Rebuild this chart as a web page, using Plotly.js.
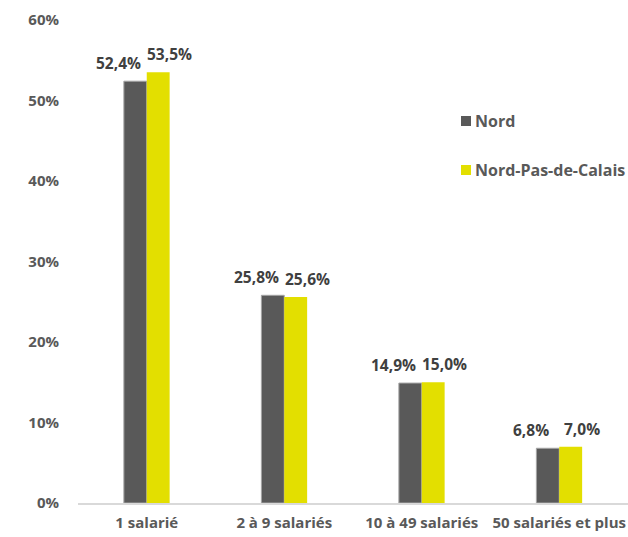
<!DOCTYPE html>
<html>
<head>
<meta charset="utf-8">
<script src="https://cdn.plot.ly/plotly-3.0.1.min.js"></script>
<style>html,body{margin:0;padding:0;background:#fff;}#chart{width:628px;height:537px;}</style>
</head>
<body>
<div id="chart"></div>
<script>
const categories = ["1 salarié", "2 à 9 salariés", "10 à 49 salariés", "50 salariés et plus"];
const seriesNames = ["Nord", "Nord-Pas-de-Calais"];
const seriesColors = ["#595959", "#e3df00"];
const nordValues = [0.524, 0.258, 0.149, 0.068];
const npdcValues = [0.535, 0.256, 0.150, 0.070];
const nordLabels = ["52,4%", "25,8%", "14,9%", "6,8%"];
const npdcLabels = ["53,5%", "25,6%", "15,0%", "7,0%"];
const yTickValues = [0, 0.1, 0.2, 0.3, 0.4, 0.5, 0.6];
const yTickLabels = ["0%", "10%", "20%", "30%", "40%", "50%", "60%"];

const fontFamily = "'Open Sans', sans-serif";
const textColor = "#595959";
const labelColor = "#404040";
const fsize = 16;
const labelSize = 15.5;

const traces = [
  {
    type: "bar", name: seriesNames[0], x: categories, y: nordValues,
    marker: {color: seriesColors[0], line: {color: "#a6a6a6", width: 1}},
    hoverinfo: "none", showlegend: false
  },
  {
    type: "bar", name: seriesNames[1], x: categories, y: npdcValues,
    marker: {color: seriesColors[1], line: {width: 0}},
    hoverinfo: "none", showlegend: false
  }
];

const annotations = [];
categories.forEach((c, i) => {
  annotations.push({x: c, y: nordValues[i], xref: "x", yref: "y", text: nordLabels[i],
    showarrow: false, xanchor: "center", yanchor: "bottom", xshift: -28, yshift: 5,
    font: {family: fontFamily, size: labelSize, color: labelColor, weight: "bold"}});
  annotations.push({x: c, y: npdcValues[i], xref: "x", yref: "y", text: npdcLabels[i],
    showarrow: false, xanchor: "center", yanchor: "bottom", xshift: 23, yshift: 5,
    font: {family: fontFamily, size: labelSize, color: labelColor, weight: "bold"}});
});

// manual legend (paper coordinates)
const legendX = 461, legendYs = [121, 170], sq = 10;
const shapes = [];
seriesNames.forEach((n, i) => {
  const px0 = (legendX - 78) / 550, px1 = (legendX + sq - 78) / 550;
  const py0 = (503 - legendYs[i] - sq / 2) / 483, py1 = (503 - legendYs[i] + sq / 2) / 483;
  shapes.push({type: "rect", xref: "paper", yref: "paper", x0: px0, x1: px1, y0: py0, y1: py1,
    fillcolor: seriesColors[i], line: {width: 0}});
  annotations.push({xref: "paper", yref: "paper", x: (legendX + sq + 2 - 78) / 550,
    y: (503 - legendYs[i]) / 483, text: n, showarrow: false, xanchor: "left", yanchor: "middle",
    font: {family: fontFamily, size: fsize, color: textColor, weight: "bold"}});
});

const layout = {
  width: 628, height: 537,
  margin: {l: 78, r: 0, t: 20, b: 34},
  paper_bgcolor: "#fff", plot_bgcolor: "#fff",
  barmode: "group", bargap: 0.667, bargroupgap: 0,
  font: {family: fontFamily, size: fsize, color: textColor, weight: "bold"},
  xaxis: {
    type: "category", showgrid: false, zeroline: false,
    showline: true, linecolor: "#d9d9d9", linewidth: 1.5,
    ticks: "", ticklabelstandoff: 5,
    tickfont: {family: fontFamily, size: 15, color: textColor, weight: "bold"},
    fixedrange: true
  },
  yaxis: {
    range: [0, 0.6], tickvals: yTickValues, ticktext: yTickLabels,
    showgrid: false, zeroline: false, showline: false, ticks: "",
    ticklabelstandoff: 18,
    tickfont: {family: fontFamily, size: 15, color: textColor, weight: "bold"},
    fixedrange: true
  },
  showlegend: false,
  shapes: shapes,
  annotations: annotations
};

Plotly.newPlot("chart", traces, layout, {displayModeBar: false, staticPlot: true});
</script>
</body>
</html>
